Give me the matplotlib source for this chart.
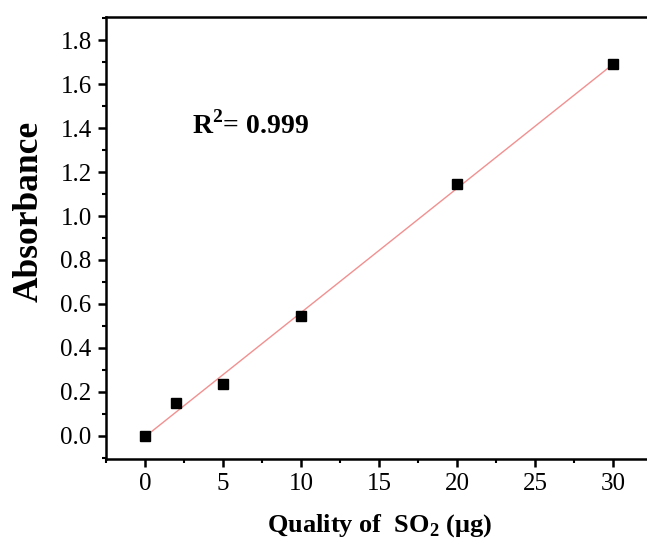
import numpy as np
import matplotlib
matplotlib.use('Agg')
import matplotlib.pyplot as plt
from matplotlib.ticker import MultipleLocator

# Data
so2_ug = [0, 2, 5, 10, 20, 30]
absorbance = [0.0, 0.15, 0.235, 0.545, 1.145, 1.69]
r2_text = r'R$^\mathbf{2}$= 0.999'

plt.rcParams['font.family'] = 'Liberation Serif'
plt.rcParams['mathtext.fontset'] = 'custom'
plt.rcParams['mathtext.rm'] = 'Liberation Serif'
plt.rcParams['mathtext.bf'] = 'Liberation Serif:bold'

fig = plt.figure(figsize=(6.47, 5.45), dpi=100)
ax = fig.add_axes([0.1632, 0.1578, 0.8368, 0.811])

# linear fit line
k, b = np.polyfit(so2_ug, absorbance, 1)
xf = np.array([min(so2_ug), max(so2_ug)])
ax.plot(xf, k * xf + b, color='#f29090', lw=1.0, zorder=2)
ax.plot(so2_ug, absorbance, 's', color='black', ms=7, zorder=3)

ax.set_xlim(-2.53, 32.15)
ax.set_ylim(-0.105, 1.905)
ax.xaxis.set_major_locator(MultipleLocator(5))
ax.xaxis.set_minor_locator(MultipleLocator(2.5))
ax.yaxis.set_major_locator(MultipleLocator(0.2))
ax.yaxis.set_minor_locator(MultipleLocator(0.1))
ax.yaxis.set_major_formatter(matplotlib.ticker.FormatStrFormatter('%.1f'))

for s in ['left', 'bottom', 'top']:
    ax.spines[s].set_linewidth(1.8)
ax.spines['right'].set_visible(False)
ax.tick_params(which='major', direction='out', length=6, width=1.8, labelsize=18, pad=4)
ax.tick_params(which='minor', direction='out', length=3, width=1.5)
ax.tick_params(top=False, right=False)

ax.set_xlabel(r'Quality of  SO$_\mathbf{2}$ (μg)', fontsize=19, fontweight='bold', va='center')
ax.xaxis.set_label_coords(0.507, -0.15)
ax.set_ylabel('Absorbance', fontsize=25.5, fontweight='bold', va='center')
ax.yaxis.set_label_coords(-0.141, 0.561)

ax.text(3.0, 1.375, r2_text, fontsize=20, fontweight='bold')

fig.savefig('out.png', dpi=100)
